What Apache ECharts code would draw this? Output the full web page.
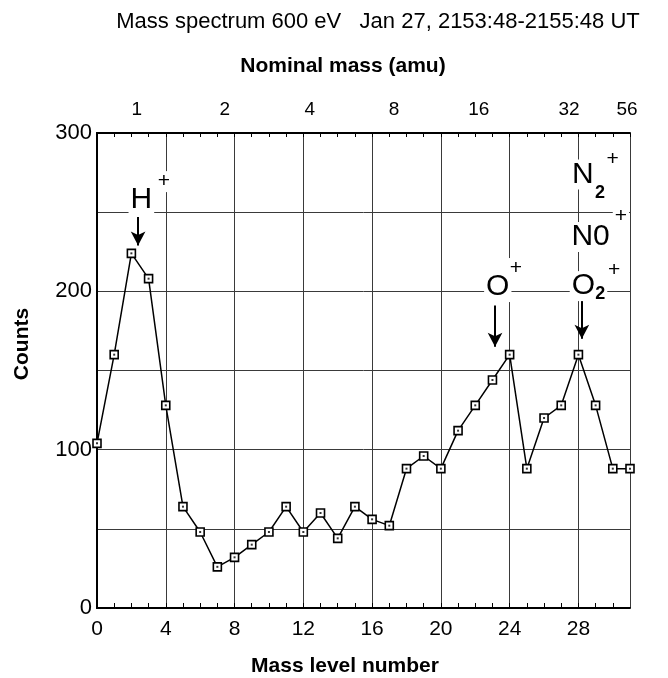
<!DOCTYPE html>
<html>
<head>
<meta charset="utf-8">
<script src="https://cdn.jsdelivr.net/npm/echarts@6/dist/echarts.min.js"></script>
<style>html,body{margin:0;padding:0;background:#fff}#c{width:668px;height:678px}</style>
</head>
<body>
<div id="c"></div>
<script>
// Mass level number (x) and counts (y)
const massLevel = [0,1,2,3,4,5,6,7,8,9,10,11,12,13,14,15,16,17,18,19,20,21,22,23,24,25,26,27,28,29,30,31];
const counts = [104,160,224,208,128,64,48,26,32,40,48,64,48,60,44,64,56,52,88,96,88,112,128,144,160,88,120,128,160,128,88,88];

// Bottom axis tick labels
const bottomTicks = [0,4,8,12,16,20,24,28];
// Top axis (nominal mass) label positions in mass-level units and their labels
const topTickPos = [2.31,7.43,12.38,17.27,22.21,27.45,30.83];
const topTickLabels = ['1','2','4','8','16','32','56'];
// Y axis labels
const yLabels = [0,100,200,300];

// Arrow annotations: x, from y, to y
const arrowX = [2.39, 23.15, 28.2];
const arrowFrom = [247, 191, 194];
const arrowTo = [229, 165, 170];

// Annotation texts (data coords of text centers)
const annText = ['H','+','O','+','O','2','+','N0','+','N','2','+'];
const annX = [2.58,3.89,23.31,24.36,28.29,29.27,30.07,28.71,30.47,28.26,29.26,29.99];
const annY = [258,269.3,202.7,214.4,203.3,198,213.3,234.3,247.4,273.8,262.2,283.4];
const annSize = [30,21,30,21,30,18,21,30,21,30,18,21];
const annBold = [false,false,false,false,false,true,false,false,false,false,true,false];

const FONT = '"Liberation Sans", Arial, Helvetica, sans-serif';
const chart = echarts.init(document.getElementById('c'), null, {renderer: 'canvas'});

const gridColor = '#3a3a3a';
const option = {
  animation: false,
  backgroundColor: '#fff',
  textStyle: {fontFamily: FONT, color: '#000'},
  grid: {left: 97, right: 38, top: 133, bottom: 70, containLabel: false},
  xAxis: [
    {
      type: 'value', position: 'bottom', min: 0, max: 31, interval: 1,
      axisLine: {show: true, lineStyle: {color: '#000', width: 2}},
      axisTick: {show: true, inside: true, length: 5, lineStyle: {color: '#000', width: 1}},
      axisLabel: {
        show: true, fontSize: 21, color: '#000', fontFamily: FONT, margin: 11,
        showMaxLabel: false,
        formatter: v => bottomTicks.indexOf(v) >= 0 ? String(v) : ''
      },
      splitLine: {show: false}
    },
    {
      type: 'value', position: 'bottom', min: 0, max: 31, interval: 4,
      axisLine: {show: false}, axisTick: {show: false}, axisLabel: {show: false},
      splitLine: {show: true, lineStyle: {color: gridColor, width: 1}}
    },
    {
      type: 'value', position: 'top', min: 0, max: 31, interval: 1,
      axisLine: {show: true, lineStyle: {color: '#000', width: 2}},
      axisTick: {show: true, inside: true, length: 4, lineStyle: {color: '#000', width: 1}},
      axisLabel: {
        show: true, fontSize: 19, color: '#000', fontFamily: FONT, margin: 14,
        customValues: topTickPos,
        formatter: v => { const i = topTickPos.indexOf(v); return i >= 0 ? topTickLabels[i] : ''; }
      },
      splitLine: {show: false}
    }
  ],
  yAxis: [
    {
      type: 'value', position: 'left', min: 0, max: 300, interval: 50,
      axisLine: {show: true, lineStyle: {color: '#000', width: 2}},
      axisTick: {show: false},
      axisLabel: {
        show: true, fontSize: 22, color: '#000', fontFamily: FONT, margin: 5,
        formatter: v => yLabels.indexOf(v) >= 0 ? String(v) : ''
      },
      splitLine: {show: true, lineStyle: {color: gridColor, width: 1}}
    },
    {
      type: 'value', position: 'right', min: 0, max: 300, interval: 50,
      axisLine: {show: true, lineStyle: {color: '#000', width: 2}},
      axisTick: {show: false}, axisLabel: {show: false}, splitLine: {show: false}
    }
  ],
  series: [
    {
      type: 'line', xAxisIndex: 0, yAxisIndex: 0,
      data: massLevel.map((x, i) => [x, counts[i]]),
      lineStyle: {color: '#000', width: 1.5},
      symbol: 'rect', symbolSize: 8, showAllSymbol: true,
      itemStyle: {color: '#fff', borderColor: '#000', borderWidth: 1.6},
      z: 3,
      markLine: {
        silent: true, animation: false,
        symbol: ['none', 'arrow'], symbolSize: [11, 14],
        lineStyle: {color: '#000', width: 2, type: 'solid'},
        label: {show: false},
        data: arrowX.map((x, i) => [{coord: [x, arrowFrom[i]]}, {coord: [x, arrowTo[i]]}])
      }
    },
    {
      type: 'scatter', xAxisIndex: 0, yAxisIndex: 0,
      data: massLevel.map((x, i) => [x, counts[i]]),
      symbol: 'rect', symbolSize: 2,
      itemStyle: {color: '#000'}, z: 4, silent: true
    }
  ]
};
chart.setOption(option);

const graphics = [
  {type: 'text', x: 378, y: 22, style: {text: 'Mass spectrum 600 eV   Jan 27, 2153:48-2155:48 UT', font: '22px ' + FONT, fill: '#000', textAlign: 'center', textVerticalAlign: 'middle'}},
  {type: 'text', x: 343, y: 66, style: {text: 'Nominal mass (amu)', font: 'bold 21px ' + FONT, fill: '#000', textAlign: 'center', textVerticalAlign: 'middle'}},
  {type: 'text', x: 345, y: 666, style: {text: 'Mass level number', font: 'bold 21px ' + FONT, fill: '#000', textAlign: 'center', textVerticalAlign: 'middle'}},
  {type: 'text', x: 22, y: 344, rotation: Math.PI / 2, style: {text: 'Counts', font: 'bold 21px ' + FONT, fill: '#000', textAlign: 'center', textVerticalAlign: 'middle'}}
];
annText.forEach((t, i) => {
  const p = chart.convertToPixel({xAxisIndex: 0, yAxisIndex: 0}, [annX[i], annY[i]]);
  graphics.push({
    type: 'text', x: p[0], y: p[1], z: 10,
    style: {
      text: t, font: (annBold[i] ? 'bold ' : '') + annSize[i] + 'px ' + FONT, fill: '#000',
      textAlign: 'center', textVerticalAlign: 'middle',
      backgroundColor: '#fff', padding: [0, 2, 0, 2]
    }
  });
});
chart.setOption({graphic: graphics});
</script>
</body>
</html>
